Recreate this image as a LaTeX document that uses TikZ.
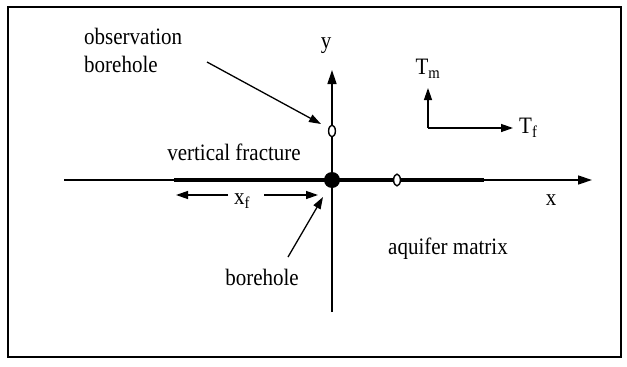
\documentclass[tikz,border=0pt]{standalone}
\usepackage{fontspec}
\setmainfont{Liberation Serif}
\usetikzlibrary{arrows.meta}
\begin{document}
\begin{tikzpicture}[x=1pt,y=-1pt,
  lbl/.style={font=\fontsize{21}{22}\selectfont, inner sep=0pt, align=left, yscale=1.12},
  arr/.style={line width=1.3pt, -{Triangle[length=12pt,width=8pt]}},
  axis/.style={line width=1.4pt, -{Triangle[length=14pt,width=9pt]}},
  ring/.style={draw, line width=1.4pt, fill=white, circle, minimum size=9pt, inner sep=0pt, xscale=0.75, yscale=1.3}]
\useasboundingbox (0,0) rectangle (627,367);
\draw[line width=1.2pt] (8,7) rectangle (621,357);
% axes
\coordinate (xl) at (64,180);
\coordinate (xr) at (592,180);
\coordinate (yb) at (332,312);
\coordinate (yt) at (332,70);
\draw[axis] (xl) -- (xr);
\draw[axis] (yb) -- (yt);
% fracture
\coordinate (fl) at (174,180);
\coordinate (fr) at (484,180);
\draw[line width=4pt] (fl) -- (fr);
% borehole
\node[circle, fill=black, minimum size=16pt, inner sep=0pt] (bh) at (332,180) {};
\node[ring] (ob1) at (332,131) {};
\node[ring] (ob2) at (397,180) {};
% labels
\node[lbl, anchor=west] (obs) at (84,50) {observation\\[3pt]borehole};
\node[lbl] (ylab) at (326,46) {y};
\node[lbl] (xlab) at (551,200) {x};
\node[lbl] (vf) at (234,152) {vertical fracture};
\node[lbl] (xf) at (242,201) {x\textsubscript{f}};
\node[lbl] (bl) at (262,277) {borehole};
\node[lbl] (aq) at (448,249) {aquifer matrix};
% observation arrow
\coordinate (oa) at (207,62);
\coordinate (ob) at (321,124);
\draw[arr] (oa) -- (ob);
% borehole arrow
\coordinate (ba) at (288,257);
\coordinate (bb) at (323,197);
\draw[arr] (ba) -- (bb);
% xf arrows
\coordinate (xfl) at (176,195);
\coordinate (xfm) at (228,195);
\coordinate (xfn) at (264,195);
\coordinate (xfr) at (318,195);
\draw[arr] (xfm) -- (xfl);
\draw[arr] (xfn) -- (xfr);
% T arrows
\coordinate (tc) at (428,128);
\coordinate (tm) at (428,88);
\coordinate (tf) at (513,128);
\draw[arr] (tc) -- (tm);
\draw[arr] (tc) -- (tf);
\node[lbl] (tml) at (428,69) {T\textsubscript{m}};
\node[lbl, anchor=west] (tfl) at (519,128) {T\textsubscript{f}};
\end{tikzpicture}
\end{document}
